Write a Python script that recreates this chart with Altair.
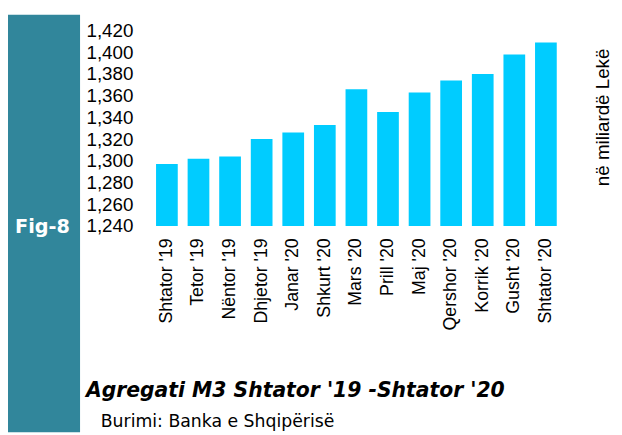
import altair as alt
import pandas as pd

months = ["Shtator '19", "Tetor '19", "Nëntor '19", "Dhjetor '19", "Janar '20",
          "Shkurt '20", "Mars '20", "Prill '20", "Maj '20", "Qershor '20",
          "Korrik '20", "Gusht '20", "Shtator '20"]
values = [1297, 1302, 1304, 1320, 1326, 1333, 1366, 1345, 1363, 1374, 1380, 1398, 1409]
y_ticks = [1240, 1260, 1280, 1300, 1320, 1340, 1360, 1380, 1400, 1420]

title_text = "Agregati M3 Shtator '19 -Shtator '20"
source_text = "Burimi: Banka e Shqipërisë"
unit_text = "në miliardë Lekë"
fig_text = "Fig-8"

FONT = "Liberation Sans"
FONT2 = "DejaVu Sans"
TEAL = "#31869B"
BAR = "#00CCFF"

df = pd.DataFrame({"month": months, "value": values})
one = alt.Data(values=[{}])

W, H = 416, 198

bars = alt.Chart(df).mark_bar(color=BAR, clip=True).encode(
    x=alt.X("month:N", sort=months,
            scale=alt.Scale(paddingInner=0.3125, paddingOuter=0.15625),
            axis=alt.Axis(title=None, labelAngle=-90, labelAlign="right",
                          labelBaseline="middle", labelFont=FONT, labelFontSize=18,
                          labelColor="#000000", domain=False, ticks=False,
                          tickSize=0, labelPadding=12)),
    y=alt.Y("value:Q",
            scale=alt.Scale(domain=[1240, 1420], nice=False, zero=False),
            axis=alt.Axis(values=y_ticks, format=",.0f", title=None, domain=False,
                          ticks=False, tickSize=0, grid=False, labelAlign="left",
                          labelBaseline="middle", labelPadding=66, labelFont=FONT,
                          labelFontSize=19, labelColor="#000000")),
)

side = alt.Chart(one).mark_rect(color=TEAL).encode(
    x=alt.value(-147), x2=alt.value(-72), y=alt.value(-16), y2=alt.value(407)
)

fig = alt.Chart(one).mark_text(
    text=fig_text, font=FONT2, fontSize=19.5, fontWeight="bold", color="white",
    align="center", baseline="middle"
).encode(x=alt.value(-110), y=alt.value(199))

title = alt.Chart(one).mark_text(
    text=title_text, font=FONT2, fontSize=20.6, fontWeight="bold", fontStyle="italic",
    color="#000000", align="left", baseline="alphabetic"
).encode(x=alt.value(-66), y=alt.value(371))

source = alt.Chart(one).mark_text(
    text=source_text, font=FONT2, fontSize=17.5, color="#000000",
    align="left", baseline="alphabetic"
).encode(x=alt.value(-51), y=alt.value(402))

unit = alt.Chart(one).mark_text(
    text=unit_text, font=FONT, fontSize=19, color="#000000", angle=270,
    align="center", baseline="middle"
).encode(x=alt.value(458), y=alt.value(88))

chart = alt.layer(side, bars, fig, title, source, unit).properties(
    width=W, height=H,
    padding={"left": 145, "top": 20, "right": 53, "bottom": 209},
    autosize=alt.AutoSizeParams(type="none"),
).configure_view(stroke=None)

chart.save("out.html", embed_options={"renderer": "svg", "actions": False})
